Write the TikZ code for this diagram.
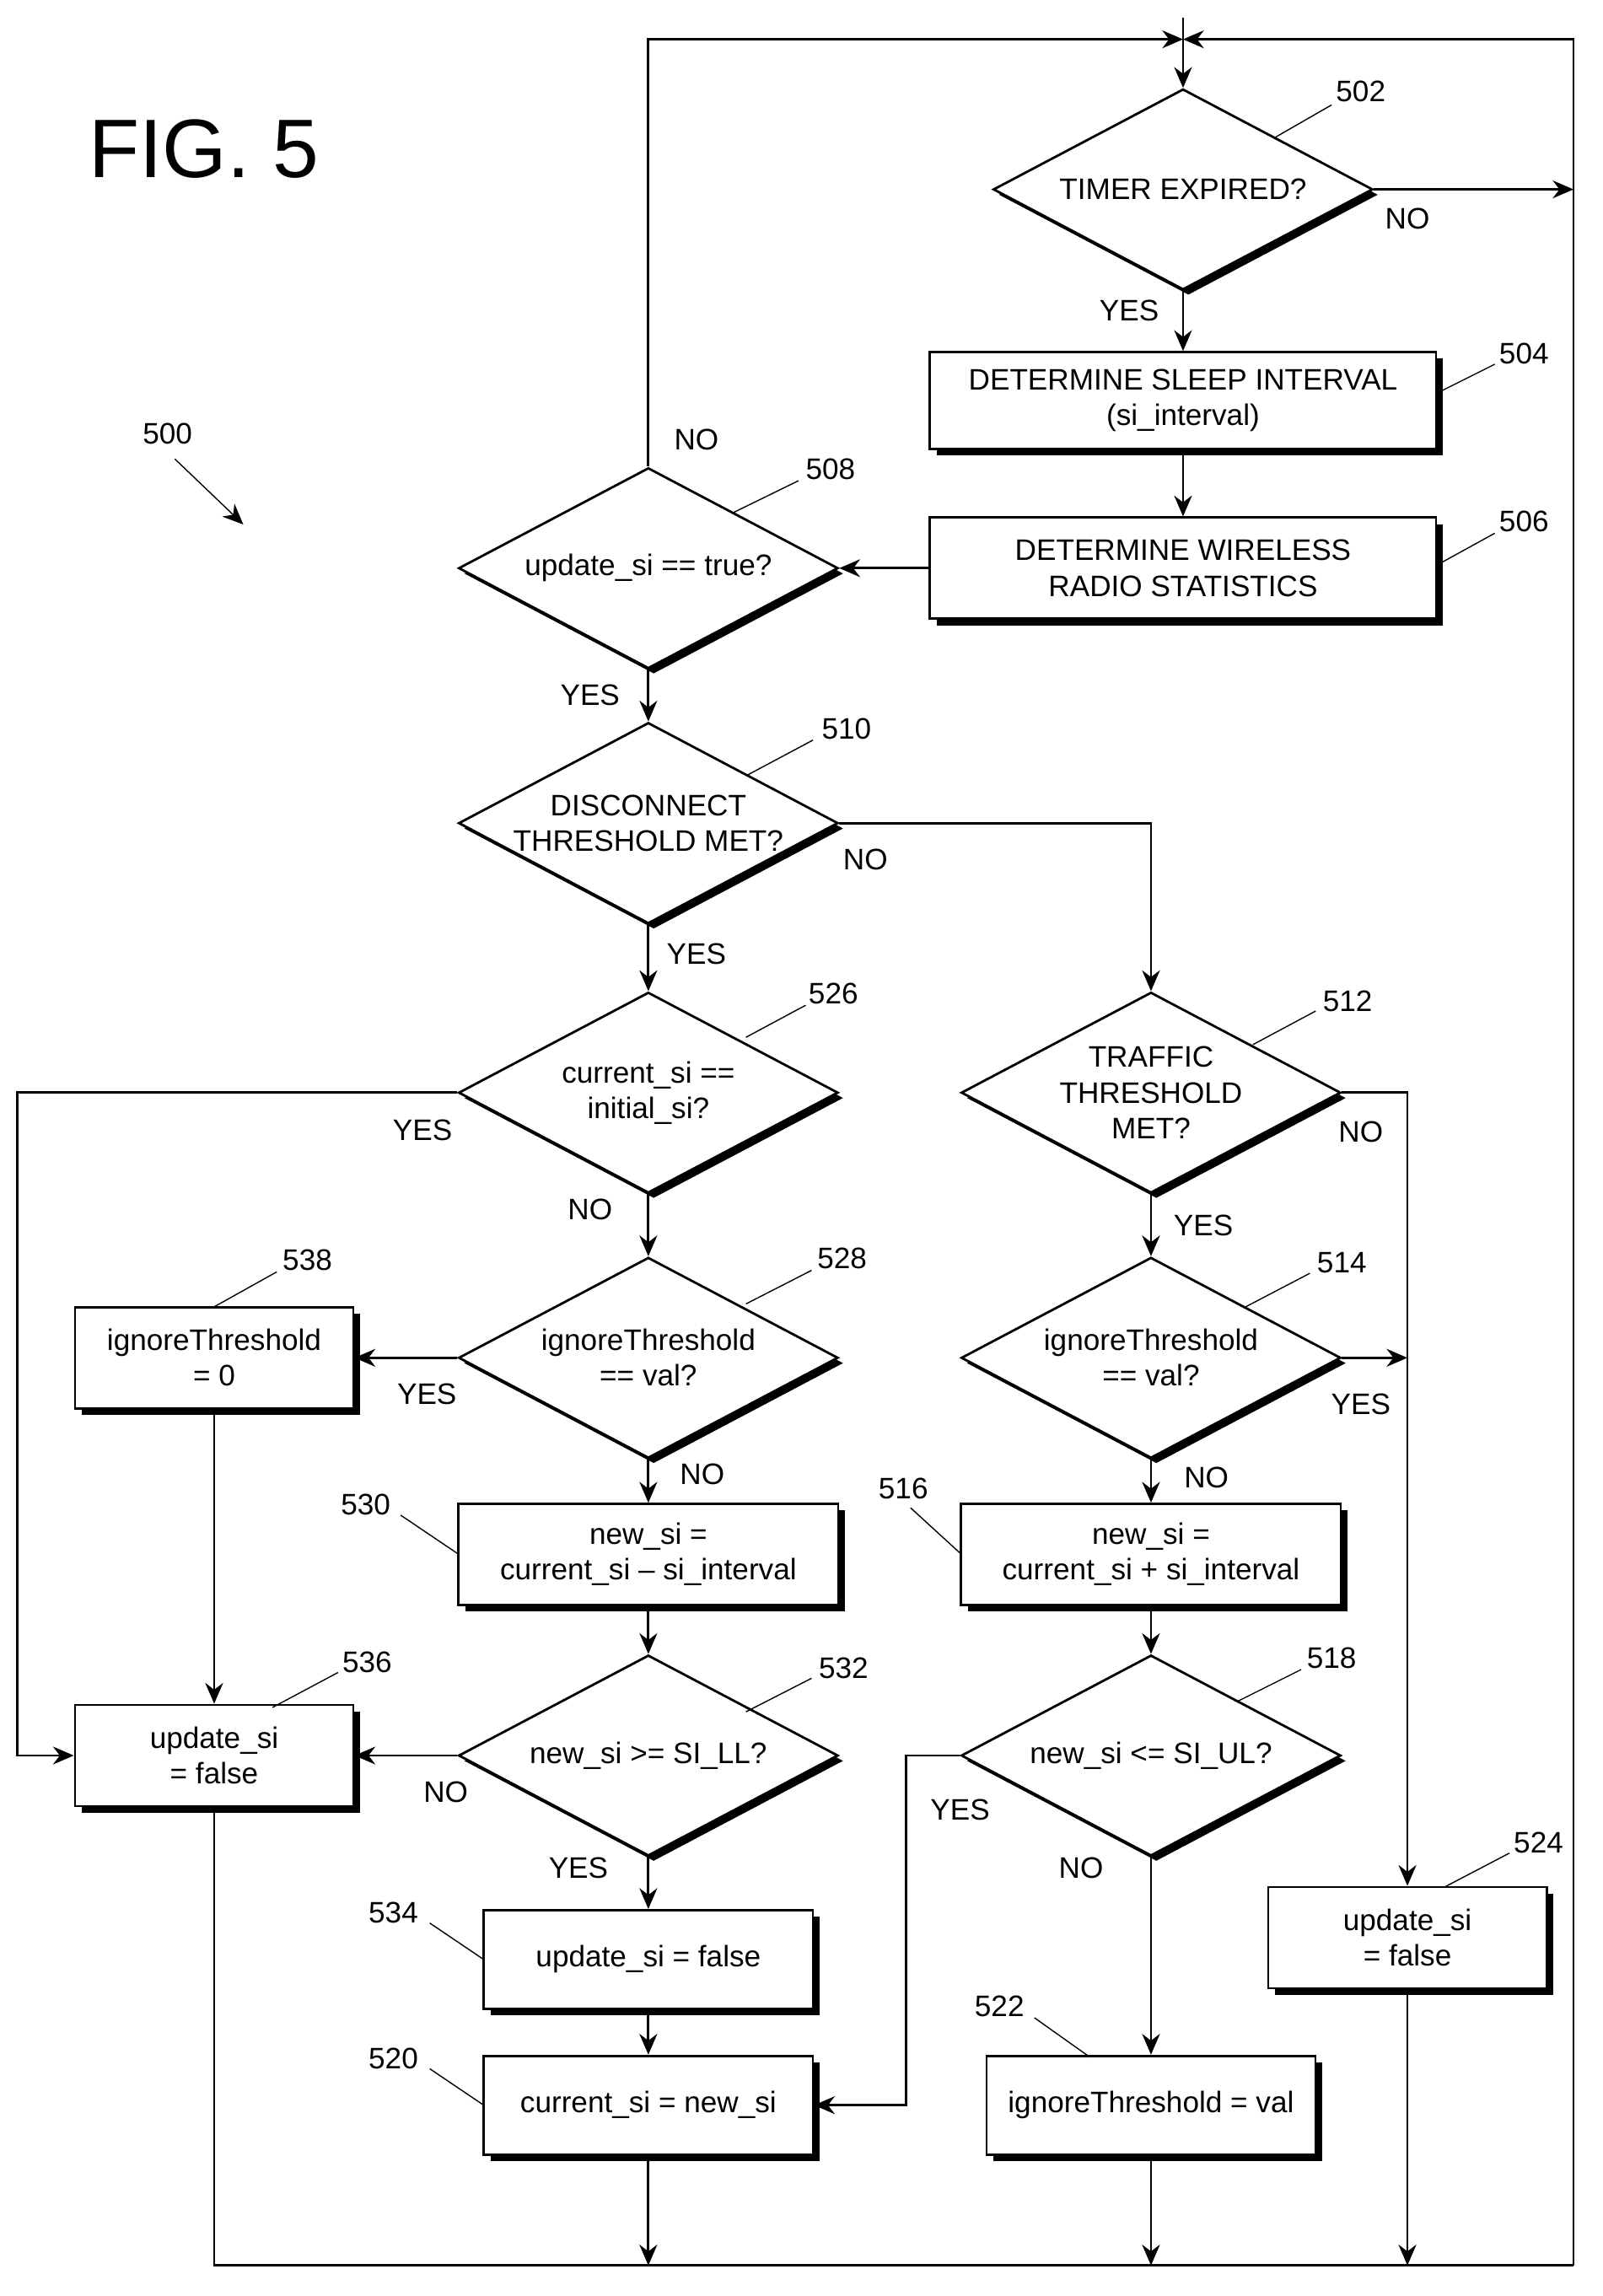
\documentclass[tikz,border=0pt]{standalone}
\usepackage{fontspec}
\setmainfont{Liberation Sans}
\usetikzlibrary{positioning,arrows.meta,shapes.geometric,shadows}

\begin{document}
\begin{tikzpicture}[
  x=0.01727cm, y=-0.01727cm,
  font=\fontsize{10}{12}\selectfont,
  box/.style={rectangle, draw, thick, fill=white, align=center,
              drop shadow={shadow xshift=2.2pt, shadow yshift=-2.2pt, fill=black, opacity=1}},
  dec/.style={diamond, draw, thick, fill=white, aspect=1.87, inner sep=0pt, align=center,
              minimum width=4.5cm, minimum height=2.38cm,
              drop shadow={shadow xshift=1.8pt, shadow yshift=-1.8pt, fill=black, opacity=1}},
  arrow/.style={-{Stealth[length=7pt,width=6pt]}, thick},
  line/.style={thick},
  lab/.style={inner sep=1pt}
]
\useasboundingbox (0,0) rectangle (1100,1576);

\node[font=\fontsize{28}{30}\selectfont] (fig) at (140,102) {FIG. 5};
\node (n500) at (115,298) {500};
\draw[arrow, thin] (120,315) -- (167,360);

% decisions
\node[dec] (d502) at (812,130) {TIMER EXPIRED?};
\node[dec] (d508) at (445,390) {update\_si == true?};
\node[dec] (d510) at (445,565) {DISCONNECT\\THRESHOLD MET?};
\node[dec] (d526) at (445,750) {current\_si ==\\initial\_si?};
\node[dec] (d512) at (790,750) {TRAFFIC\\THRESHOLD\\MET?};
\node[dec] (d528) at (445,932) {ignoreThreshold\\== val?};
\node[dec] (d514) at (790,932) {ignoreThreshold\\== val?};
\node[dec] (d532) at (445,1205) {new\_si >= SI\_LL?};
\node[dec] (d518) at (790,1205) {new\_si <= SI\_UL?};

% boxes
\node[box, minimum width=6cm, minimum height=1.15cm] (b504) at (812,275) {DETERMINE SLEEP INTERVAL\\(si\_interval)};
\node[box, minimum width=6cm, minimum height=1.2cm] (b506) at (812,390) {DETERMINE WIRELESS\\RADIO STATISTICS};
\node[box, minimum width=3.3cm, minimum height=1.2cm] (b538) at (147,932) {ignoreThreshold\\= 0};
\node[box, minimum width=4.5cm, minimum height=1.2cm] (b530) at (445,1067) {new\_si =\\current\_si -- si\_interval};
\node[box, minimum width=4.5cm, minimum height=1.2cm] (b516) at (790,1067) {new\_si =\\current\_si + si\_interval};
\node[box, minimum width=3.3cm, minimum height=1.2cm] (b536) at (147,1205) {update\_si\\= false};
\node[box, minimum width=3.9cm, minimum height=1.17cm] (b534) at (445,1345) {update\_si = false};
\node[box, minimum width=3.3cm, minimum height=1.2cm] (b524) at (966,1330) {update\_si\\= false};
\node[box, minimum width=3.9cm, minimum height=1.17cm] (b520) at (445,1445) {current\_si = new\_si};
\node[box, minimum width=3.9cm, minimum height=1.17cm] (b522) at (790,1445) {ignoreThreshold = val};

% helper coordinates
\coordinate (top) at (812,27);
\coordinate (tick) at (812,12);
\coordinate (tl) at (445,27);
\coordinate (tr) at (1080,27);
\coordinate (rmid) at (1080,130);
\coordinate (bl) at (147,1555);
\coordinate (br) at (1080,1555);
\coordinate (o520) at (445,1555);
\coordinate (o522) at (790,1555);
\coordinate (o524) at (966,1555);
\coordinate (j514) at (966,932);

% connectors
\draw[line] (tick) -- (top);
\draw[arrow] (top) -- (d502.north);
\draw[arrow] (d508.north) -- (tl) -- (top);
\draw[arrow] (br) -- (tr) -- (top);
\draw[arrow] (d502.east) -- (rmid);
\draw[arrow] (d502.south) -- (b504);
\draw[arrow] (b504) -- (b506);
\draw[arrow] (b506) -- (d508.east);
\draw[arrow] (d508.south) -- (d510.north);
\draw[arrow] (d510.east) -| (d512.north);
\draw[arrow] (d510.south) -- (d526.north);
\draw[arrow] (d526.west) -- (12,750) |- (b536.west);
\draw[arrow] (d526.south) -- (d528.north);
\draw[arrow] (d528.west) -- (b538.east);
\draw[arrow] (b538) -- (b536);
\draw[arrow] (d528.south) -- (b530);
\draw[arrow] (b530) -- (d532.north);
\draw[arrow] (d532.west) -- (b536.east);
\draw[arrow] (d532.south) -- (b534);
\draw[arrow] (b534) -- (b520);
\draw[arrow] (b520) -- (o520);
\draw[line] (b536.south) -- (bl) -- (br);
\draw[arrow] (d512.east) -- (966,750) -- (b524.north);
\draw[arrow] (d512.south) -- (d514.north);
\draw[arrow] (d514.east) -- (j514);
\draw[arrow] (d514.south) -- (b516);
\draw[arrow] (b516) -- (d518.north);
\draw[arrow] (d518.west) -- (622,1205) |- (b520.east);
\draw[arrow] (d518.south) -- (b522);
\draw[arrow] (b522) -- (o522);
\draw[arrow] (b524) -- (o524);

% YES / NO
\node at (966,150) {NO};
\node at (775,213) {YES};
\node at (478,302) {NO};
\node at (405,477) {YES};
\node at (594,590) {NO};
\node at (478,655) {YES};
\node at (290,776) {YES};
\node at (405,830) {NO};
\node at (293,957) {YES};
\node at (482,1012) {NO};
\node at (306,1230) {NO};
\node at (397,1282) {YES};
\node at (934,777) {NO};
\node at (826,841) {YES};
\node at (934,964) {YES};
\node at (828,1014) {NO};
\node at (659,1242) {YES};
\node at (742,1282) {NO};

% reference numbers
\foreach \t/\tx/\ty/\ax/\ay/\bx/\by in {
  502/934/63/874/95/914/72, 504/1046/243/986/270/1026/250,
  506/1046/358/986/388/1026/366, 508/570/322/503/352/548/330,
  510/581/500/513/532/558/508, 526/572/682/512/712/553/690,
  512/925/687/860/717/903/694, 528/578/864/512/895/557/872,
  514/921/867/855/897/899/874, 538/211/865/147/897/190/873,
  530/251/1033/275/1040/315/1067, 516/620/1022/625/1035/660/1067,
  532/579/1145/512/1175/557/1152, 518/914/1138/849/1168/893/1146,
  536/252/1141/187/1172/232/1148, 534/270/1313/295/1320/332/1345,
  524/1056/1265/992/1295/1036/1272, 522/686/1377/710/1385/748/1412,
  520/270/1413/295/1420/332/1445}{
  \node[lab] (r\t) at (\tx,\ty) {\t};
  \draw (\ax,\ay) -- (\bx,\by);
}
\end{tikzpicture}
\end{document}
